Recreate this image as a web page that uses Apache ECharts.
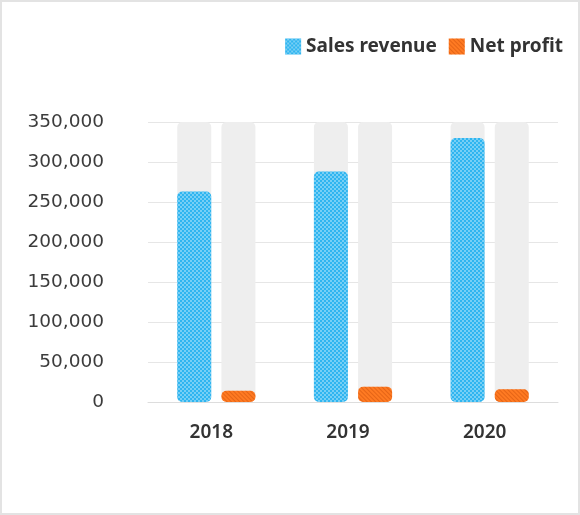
<!DOCTYPE html>
<html>
<head>
<meta charset="utf-8">
<script src="https://cdn.jsdelivr.net/npm/echarts@6/dist/echarts.min.js"></script>
<style>
  html, body { margin: 0; padding: 0; background: #fff; }
  #main { width: 580px; height: 515px; box-sizing: border-box; border: 2px solid #e3e3e3; }
</style>
</head>
<body>
<div id="main"></div>
<script>
// 数据
var years = ['2018', '2019', '2020'];
var salesRevenue = [263000, 288000, 330000];
var netProfit = [14000, 19000, 16000];
var axisMax = 350000;

var chart = echarts.init(document.getElementById('main'));

chart.setOption({
    aria: { enabled: true, decal: { show: true } },
    animation: false,
    legend: {
        right: 10,
        top: 30,
        itemWidth: 16,
        itemHeight: 16,
        itemGap: 12,
        icon: 'rect',
        textStyle: { fontFamily: 'Noto Sans', fontWeight: 'bold', fontSize: 19, color: '#333' }
    },
    grid: { left: 146, right: 20, top: 120, bottom: 111 },
    xAxis: {
        type: 'category',
        data: years,
        axisLine: { lineStyle: { color: '#ddd' } },
        axisTick: { inside: true, length: 6, lineStyle: { color: '#ddd' } },
        axisLabel: {
            margin: 21,
            padding: [0, 10, 0, 0],
            fontFamily: 'Noto Sans',
            fontWeight: 600,
            fontSize: 19,
            color: '#333'
        }
    },
    yAxis: {
        type: 'value',
        min: 0,
        max: axisMax,
        interval: 50000,
        axisLabel: {
            margin: 44,
            fontFamily: 'DejaVu Sans',
            fontSize: 18.5,
            color: '#3c3c3c',
            formatter: function (v) { return v.toLocaleString('en-US'); }
        },
        splitLine: { lineStyle: { color: '#e6e6e6' } }
    },
    series: [
        {
            name: 'Sales revenue',
            type: 'bar',
            data: salesRevenue,
            barWidth: 34,
            barGap: '30%',
            showBackground: true,
            backgroundStyle: { color: '#eeeeee', borderRadius: 5 },
            itemStyle: {
                color: '#2fb5f0',
                borderRadius: 5,
                decal: {
                    symbol: 'rect',
                    symbolSize: 1,
                    color: 'rgba(255,255,255,0.35)',
                    dashArrayX: [[2, 2], [0, 2, 2, 0]],
                    dashArrayY: [2, 0],
                    rotation: 0
                }
            }
        },
        {
            name: 'Net profit',
            type: 'bar',
            data: netProfit,
            barWidth: 34,
            showBackground: true,
            backgroundStyle: { color: '#eeeeee', borderRadius: 5 },
            itemStyle: {
                color: '#ff7a22',
                borderRadius: 5,
                decal: {
                    symbol: 'rect',
                    symbolSize: 1,
                    color: 'rgba(180,60,0,0.35)',
                    dashArrayX: [1, 0],
                    dashArrayY: [1, 2],
                    rotation: Math.PI / 4
                }
            }
        }
    ]
});
</script>
</body>
</html>
